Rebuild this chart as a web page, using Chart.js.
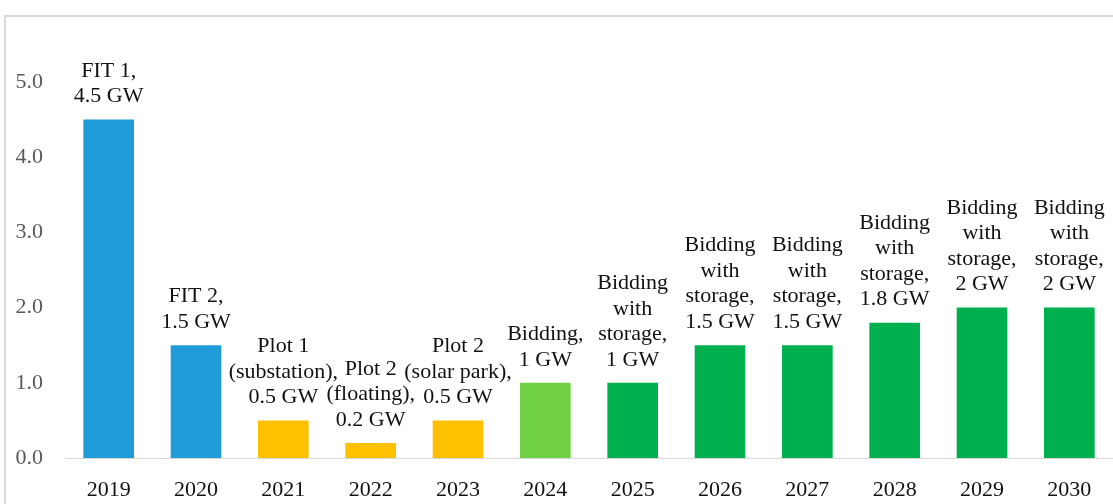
<!DOCTYPE html>
<html>
<head>
<meta charset="utf-8">
<script src="https://cdn.jsdelivr.net/npm/chart.js@4/dist/chart.umd.min.js"></script>
<style>
  html, body { margin: 0; padding: 0; background: #fff; }
  #wrap { position: relative; width: 1113px; height: 504px; overflow: hidden; }
  #frame {
    position: absolute; left: 4px; top: 15px; width: 1200px; height: 600px;
    border-left: 2px solid #d9d9d9; border-top: 2px solid #d9d9d9;
  }
  #chart { position: absolute; left: 0; top: 0; }
</style>
</head>
<body>
<div id="wrap">
  <div id="frame"></div>
  <canvas id="chart" width="1113" height="504"></canvas>
</div>
<script>
// Years on the x axis
const years = ["2019","2020","2021","2022","2023","2024","2025","2026","2027","2028","2029","2030"];

// Capacity per round, GW
const capacityGW = [4.5, 1.5, 0.5, 0.2, 0.5, 1, 1, 1.5, 1.5, 1.8, 2, 2];

// Scheme of each round (decides the bar colour)
const schemes = ["FIT","FIT","Plot","Plot","Plot","Bidding",
  "Storage","Storage","Storage","Storage","Storage","Storage"];

// Text over each bar, one entry per line
const barLabels = [
  ["FIT 1,", "4.5 GW"],
  ["FIT 2,", "1.5 GW"],
  ["Plot 1", "(substation),", "0.5 GW"],
  ["Plot 2", "(floating),", "0.2 GW"],
  ["Plot 2", "(solar park),", "0.5 GW"],
  ["Bidding,", "1 GW"],
  ["Bidding", "with", "storage,", "1 GW"],
  ["Bidding", "with", "storage,", "1.5 GW"],
  ["Bidding", "with", "storage,", "1.5 GW"],
  ["Bidding", "with", "storage,", "1.8 GW"],
  ["Bidding", "with", "storage,", "2 GW"],
  ["Bidding", "with", "storage,", "2 GW"]
];

// y axis ticks
const yTicks = [0, 1, 2, 3, 4, 5];

const SCHEME_COLOURS = {
  FIT: "#1f9bd8",
  Plot: "#ffc000",
  Bidding: "#70d147",
  Storage: "#00b04f"
};

const FONT = "'Liberation Serif', 'DejaVu Serif', serif";

/** Writes the multi-line label above every bar */
const barLabelPlugin = {
  id: "barLabels",
  afterDatasetsDraw(chart){
    const ctx = chart.ctx;
    const meta = chart.getDatasetMeta(0);
    const lineH = 25.5;
    ctx.save();
    ctx.font = "22px " + FONT;
    ctx.fillStyle = "#111";
    ctx.textAlign = "center";
    ctx.textBaseline = "middle";
    meta.data.forEach((bar, i) => {
      const lines = barLabels[i];
      const lastY = bar.y - 23;
      lines.forEach((txt, k) => {
        const y = lastY - (lines.length - 1 - k) * lineH;
        ctx.fillText(txt, bar.x, y);
      });
    });
    ctx.restore();
  }
};

new Chart(document.getElementById("chart"), {
  type: "bar",
  data: {
    labels: years,
    datasets: [{
      data: capacityGW,
      backgroundColor: schemes.map(s => SCHEME_COLOURS[s]),
      borderWidth: 0,
      barPercentage: 0.58,
      categoryPercentage: 1.0
    }]
  },
  options: {
    responsive: false,
    animation: false,
    layout: { padding: { top: 82, right: 0, bottom: 0, left: 0 } },
    plugins: {
      legend: { display: false },
      tooltip: { enabled: false }
    },
    scales: {
      x: {
        grid: { display: false, drawTicks: false },
        border: { display: true, color: "#d9d9d9", width: 1 },
        ticks: {
          color: "#111",
          font: { family: FONT, size: 22 },
          padding: 19
        },
        afterFit(scale){ scale.height = 46; }
      },
      y: {
        min: yTicks[0],
        max: yTicks[yTicks.length - 1],
        grid: { display: false, drawTicks: false },
        border: { display: false },
        ticks: {
          stepSize: 1,
          color: "#595959",
          font: { family: FONT, size: 22 },
          padding: 22,
          callback: v => Number(v).toFixed(1)
        },
        afterFit(scale){ scale.width = 65; }
      }
    }
  },
  plugins: [barLabelPlugin]
});
</script>
</body>
</html>
